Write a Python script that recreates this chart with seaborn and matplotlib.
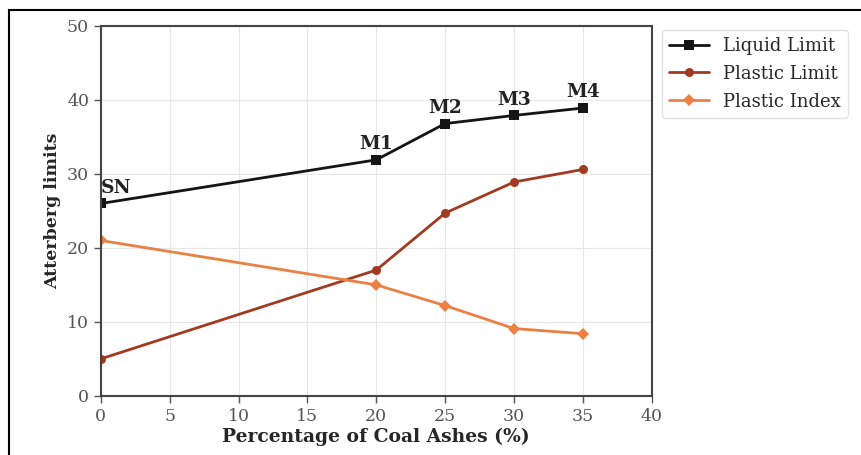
import numpy as np
import pandas as pd
import seaborn as sns
import matplotlib.pyplot as plt
from matplotlib.patches import Rectangle

# valeurs
pct_ash = [0, 20, 25, 30, 35]
mix_names = ['SN', 'M1', 'M2', 'M3', 'M4']
liquid_limit = [26.0, 31.9, 36.8, 37.9, 38.9]
plastic_limit = [5.0, 17.0, 24.7, 28.9, 30.6]
plastic_index = [21.0, 15.0, 12.2, 9.1, 8.4]

df = pd.DataFrame({
    'pct': pct_ash * 3,
    'val': liquid_limit + plastic_limit + plastic_index,
    'serie': ['Liquid Limit'] * 5 + ['Plastic Limit'] * 5 + ['Plastic Index'] * 5,
})

sns.set_style('whitegrid')
plt.rcParams['font.family'] = ['DejaVu Serif']

fig = plt.figure(figsize=(8.62, 4.55), dpi=100)
ax = fig.add_axes([0.117, 0.13, 0.639, 0.813])

palette = {'Liquid Limit': '#151515', 'Plastic Limit': '#a13a22', 'Plastic Index': '#eb8045'}
markers = {'Liquid Limit': 's', 'Plastic Limit': 'o', 'Plastic Index': 'D'}
sns.lineplot(data=df, x='pct', y='val', hue='serie', style='serie',
             palette=palette, markers=markers, dashes=False,
             markersize=6.5, linewidth=2, markeredgewidth=0, ax=ax)

for x, y, name in zip(pct_ash, liquid_limit, mix_names):
    ax.annotate(name, (x, y), xytext=(0, 5), textcoords='offset points',
                ha='left' if x == 0 else 'center', va='bottom',
                fontsize=13.5, fontweight='bold', color='#222222')

ax.set_xlim(0, 40)
ax.set_ylim(0, 50)
ax.set_xticks(range(0, 41, 5))
ax.set_yticks(range(0, 51, 10))
ax.set_xlabel('Percentage of Coal Ashes (%)', fontsize=13.5, fontweight='bold', labelpad=2)
ax.set_ylabel('Atterberg limits', fontsize=12.5, fontweight='bold')
ax.tick_params(axis='both', labelsize=12.5, colors='#555555', length=5, width=1, direction='out',
               bottom=True, left=True)
ax.grid(color='#e6e6e6', linewidth=0.8)
for s in ax.spines.values():
    s.set_color('#444444')
    s.set_linewidth(1.5)

leg = ax.legend(title=None, loc='upper left', bbox_to_anchor=(1.018, 0.99), fontsize=13,
                frameon=True, borderaxespad=0, labelspacing=0.55, handlelength=2.2)
leg.get_frame().set_edgecolor('#dddddd')

# cadre noir autour de l'image
fig.patches.append(Rectangle((0.010, -0.05), 1.1, 1.028, transform=fig.transFigure,
                             fill=False, edgecolor='black', linewidth=1.5))

fig.savefig('out.png', dpi=100)
